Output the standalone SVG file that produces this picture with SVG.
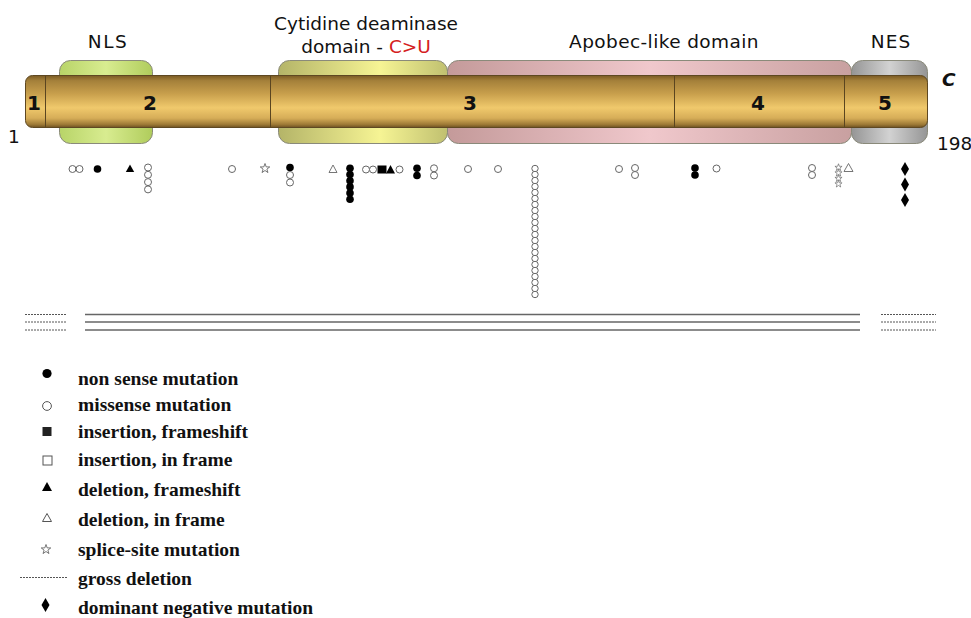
<svg xmlns="http://www.w3.org/2000/svg" xmlns:xlink="http://www.w3.org/1999/xlink" width="971" height="618" viewBox="0 0 971 618">
  <style>
    .lbl { font-family: "DejaVu Sans", "Liberation Sans", sans-serif; font-size: 18.5px; fill: #111; }
    .num { font-family: "DejaVu Sans", "Liberation Sans", sans-serif; font-size: 20px; font-weight: bold; fill: #111; text-anchor: middle; }
    .leg { font-family: "Liberation Serif", serif; font-size: 19.5px; font-weight: bold; fill: #111; }
    .oc { fill: #fff; stroke: #666; stroke-width: 1; }
    .fc { fill: #000; }
    .box { stroke: #8a8a7a; stroke-width: 1; }
    .div { stroke: #5a4520; stroke-width: 1; }
    .gl { stroke: #666; stroke-width: 1.6; }
    .gd { stroke: #555; stroke-width: 1; stroke-dasharray: 2 1; }
  </style>
  <defs>
    <linearGradient id="gBar" x1="0" y1="0" x2="0" y2="1">
      <stop offset="0" stop-color="#7a5a24"/>
      <stop offset="0.1" stop-color="#a4803a"/>
      <stop offset="0.35" stop-color="#c89f4c"/>
      <stop offset="0.62" stop-color="#f0c96c"/>
      <stop offset="0.82" stop-color="#d6ad58"/>
      <stop offset="0.94" stop-color="#9e7a36"/>
      <stop offset="1" stop-color="#6e5222"/>
    </linearGradient>
    <linearGradient id="gNls" x1="0" y1="0" x2="1" y2="0">
      <stop offset="0" stop-color="#b8d468"/>
      <stop offset="0.5" stop-color="#d8ec90"/>
      <stop offset="1" stop-color="#b0cc5c"/>
    </linearGradient>
    <linearGradient id="gCyt" x1="0" y1="0" x2="1" y2="0">
      <stop offset="0" stop-color="#b4b468"/>
      <stop offset="0.6" stop-color="#f6f494"/>
      <stop offset="1" stop-color="#c0c070"/>
    </linearGradient>
    <linearGradient id="gApo" x1="0" y1="0" x2="1" y2="0">
      <stop offset="0" stop-color="#c49a9a"/>
      <stop offset="0.5" stop-color="#f0c8cc"/>
      <stop offset="1" stop-color="#c8a0a0"/>
    </linearGradient>
    <linearGradient id="gNes" x1="0" y1="0" x2="1" y2="0">
      <stop offset="0" stop-color="#959595"/>
      <stop offset="0.5" stop-color="#d2d2d2"/>
      <stop offset="1" stop-color="#959595"/>
    </linearGradient>
    <path id="star" d="M0,-5 L1.18,-1.62 L4.76,-1.55 L1.9,0.62 L2.94,4.05 L0,2 L-2.94,4.05 L-1.9,0.62 L-4.76,-1.55 L-1.18,-1.62 Z" fill="#fff" stroke="#555" stroke-width="0.8"/>
    <path id="dia" d="M0,-7 L4,0 L0,7 L-4,0 Z" fill="#000"/>
  </defs>

  <!-- domain labels -->
  <g id="labels">
    <text class="lbl" x="108" y="48" text-anchor="middle" letter-spacing="1.5">NLS</text>
    <text class="lbl" x="366" y="30" text-anchor="middle">Cytidine deaminase</text>
    <text class="lbl" x="366" y="53" text-anchor="middle">domain - <tspan fill="#d42020">C&gt;U</tspan></text>
    <text class="lbl" x="664" y="48" text-anchor="middle" letter-spacing="0.4">Apobec-like domain</text>
    <text class="lbl" x="891" y="48" text-anchor="middle" letter-spacing="1">NES</text>
    <text class="lbl" x="942" y="86" font-style="italic" font-weight="bold">C</text>
    <text class="lbl" x="8" y="143">1</text>
    <text class="lbl" x="937" y="150">198</text>
  </g>

  <!-- functional domains behind the exon bar -->
  <g id="domain-nls"><rect class="box" x="59.5" y="60.5" width="93" height="83" rx="11" fill="url(#gNls)"/></g>
  <g id="domain-cytidine"><rect class="box" x="278.5" y="60.5" width="169" height="83" rx="11" fill="url(#gCyt)"/></g>
  <g id="domain-apobec"><rect class="box" x="447.5" y="60.5" width="404" height="83" rx="11" fill="url(#gApo)"/></g>
  <g id="domain-nes"><rect class="box" x="851.5" y="60.5" width="76" height="83" rx="11" fill="url(#gNes)"/></g>

  <!-- exon bar -->
  <g id="exons">
    <rect x="25.5" y="75.5" width="902" height="52" rx="7" fill="url(#gBar)" stroke="#5e4822" stroke-width="1"/>
    <line class="div" x1="45.5" y1="76" x2="45.5" y2="127"/>
    <line class="div" x1="270.5" y1="76" x2="270.5" y2="127"/>
    <line class="div" x1="674.5" y1="76" x2="674.5" y2="127"/>
    <line class="div" x1="844.5" y1="76" x2="844.5" y2="127"/>
    <text class="num" x="34" y="110">1</text>
    <text class="num" x="150" y="110">2</text>
    <text class="num" x="470" y="110">3</text>
    <text class="num" x="758" y="110">4</text>
    <text class="num" x="885" y="110">5</text>
  </g>

  <!-- mutations along the protein -->
  <g id="mutations">
    <circle class="oc" cx="72.5" cy="169" r="3.5"/>
    <circle class="oc" cx="79.5" cy="169" r="3.5"/>
    <circle class="fc" cx="97.5" cy="169" r="3.8"/>
    <path class="fc" d="M130,164.5 L134.2,172 L125.8,172 Z"/>
    <circle class="oc" cx="148" cy="167.5" r="3.5"/>
    <circle class="oc" cx="148" cy="174.8" r="3.5"/>
    <circle class="oc" cx="148" cy="182.1" r="3.5"/>
    <circle class="oc" cx="148" cy="189.4" r="3.5"/>
    <circle class="oc" cx="232" cy="169" r="3.5"/>
    <use xlink:href="#star" x="265" y="168.5"/>
    <circle class="fc" cx="290" cy="167.5" r="3.8"/>
    <circle class="oc" cx="290" cy="175" r="3.5"/>
    <circle class="oc" cx="290" cy="182.5" r="3.5"/>
    <path d="M333,165 L337,172.5 L329,172.5 Z" fill="#fff" stroke="#666" stroke-width="0.9"/>
    <circle class="fc" cx="350" cy="168.3" r="3.8"/>
    <circle class="fc" cx="350" cy="174.5" r="3.8"/>
    <circle class="fc" cx="350" cy="180.7" r="3.8"/>
    <circle class="fc" cx="350" cy="186.9" r="3.8"/>
    <circle class="fc" cx="350" cy="193.1" r="3.8"/>
    <circle class="fc" cx="350" cy="199.3" r="3.8"/>
    <circle class="oc" cx="366" cy="169.5" r="3.5"/>
    <circle class="oc" cx="373" cy="169.5" r="3.5"/>
    <rect class="fc" x="377.5" y="165.5" width="9" height="8"/>
    <path class="fc" d="M390.5,165 L395,173.5 L386,173.5 Z"/>
    <circle class="oc" cx="399.5" cy="169.5" r="3.5"/>
    <circle class="fc" cx="417" cy="168.3" r="3.8"/>
    <circle class="fc" cx="417" cy="175.5" r="3.8"/>
    <circle class="oc" cx="434" cy="168.3" r="3.5"/>
    <circle class="oc" cx="434" cy="175.5" r="3.5"/>
    <circle class="oc" cx="468" cy="169" r="3.5"/>
    <circle class="oc" cx="498" cy="169" r="3.5"/>
    <g id="col-535">
      <circle class="oc" cx="535" cy="168.5" r="3.2"/>
      <circle class="oc" cx="535" cy="174.5" r="3.2"/>
      <circle class="oc" cx="535" cy="180.5" r="3.2"/>
      <circle class="oc" cx="535" cy="186.5" r="3.2"/>
      <circle class="oc" cx="535" cy="192.5" r="3.2"/>
      <circle class="oc" cx="535" cy="198.5" r="3.2"/>
      <circle class="oc" cx="535" cy="204.5" r="3.2"/>
      <circle class="oc" cx="535" cy="210.5" r="3.2"/>
      <circle class="oc" cx="535" cy="216.5" r="3.2"/>
      <circle class="oc" cx="535" cy="222.5" r="3.2"/>
      <circle class="oc" cx="535" cy="228.5" r="3.2"/>
      <circle class="oc" cx="535" cy="234.5" r="3.2"/>
      <circle class="oc" cx="535" cy="240.5" r="3.2"/>
      <circle class="oc" cx="535" cy="246.5" r="3.2"/>
      <circle class="oc" cx="535" cy="252.5" r="3.2"/>
      <circle class="oc" cx="535" cy="258.5" r="3.2"/>
      <circle class="oc" cx="535" cy="264.5" r="3.2"/>
      <circle class="oc" cx="535" cy="270.5" r="3.2"/>
      <circle class="oc" cx="535" cy="276.5" r="3.2"/>
      <circle class="oc" cx="535" cy="282.5" r="3.2"/>
      <circle class="oc" cx="535" cy="288.5" r="3.2"/>
      <circle class="oc" cx="535" cy="294.5" r="3.2"/>
    </g>
    <circle class="oc" cx="619" cy="169" r="3.5"/>
    <circle class="oc" cx="635" cy="168" r="3.5"/>
    <circle class="oc" cx="635" cy="175" r="3.5"/>
    <circle class="fc" cx="695" cy="168" r="3.8"/>
    <circle class="fc" cx="695" cy="175" r="3.8"/>
    <circle class="oc" cx="716.5" cy="168.5" r="3.5"/>
    <circle class="oc" cx="812" cy="168" r="3.5"/>
    <circle class="oc" cx="812" cy="175" r="3.5"/>
    <use xlink:href="#star" transform="translate(838.5,167.5) scale(0.75)"/>
    <use xlink:href="#star" transform="translate(838.5,173) scale(0.75)"/>
    <use xlink:href="#star" transform="translate(838.5,178.5) scale(0.75)"/>
    <use xlink:href="#star" transform="translate(838.5,184) scale(0.75)"/>
    <path d="M848.5,163.5 L853,171.5 L844,171.5 Z" fill="#fff" stroke="#666" stroke-width="0.9"/>
    <use xlink:href="#dia" x="905" y="169"/>
    <use xlink:href="#dia" x="905" y="184.5"/>
    <use xlink:href="#dia" x="905" y="200"/>
  </g>

  <!-- gross deletions -->
  <g id="deletions">
    <line class="gd" x1="25" y1="314.5" x2="67" y2="314.5"/>
    <line class="gd" x1="25" y1="322" x2="67" y2="322"/>
    <line class="gd" x1="25" y1="330" x2="67" y2="330"/>
    <line class="gl" x1="85" y1="314.5" x2="860" y2="314.5"/>
    <line class="gl" x1="85" y1="322" x2="860" y2="322"/>
    <line class="gl" x1="85" y1="330" x2="860" y2="330"/>
    <line class="gd" x1="881" y1="314.5" x2="936" y2="314.5"/>
    <line class="gd" x1="881" y1="322" x2="936" y2="322"/>
    <line class="gd" x1="881" y1="330" x2="936" y2="330"/>
  </g>

  <!-- legend -->
  <g id="legend">
    <circle class="fc" cx="47" cy="373.5" r="4.6"/>
    <text class="leg" x="78" y="385">non sense mutation</text>
    <circle cx="47" cy="406" r="4.4" fill="#fff" stroke="#555" stroke-width="1"/>
    <text class="leg" x="78" y="411">missense mutation</text>
    <rect x="42.5" y="427" width="9" height="9" fill="#222"/>
    <text class="leg" x="78" y="438">insertion, frameshift</text>
    <rect x="43" y="456" width="9" height="9" fill="#fff" stroke="#555" stroke-width="1"/>
    <text class="leg" x="78" y="466">insertion, in frame</text>
    <path d="M47,482 L52,491 L42,491 Z" fill="#000"/>
    <text class="leg" x="78" y="496">deletion, frameshift</text>
    <path d="M47,513.5 L51.5,521.5 L42.5,521.5 Z" fill="#fff" stroke="#555" stroke-width="1"/>
    <text class="leg" x="78" y="526">deletion, in frame</text>
    <use xlink:href="#star" x="46" y="549.5"/>
    <text class="leg" x="78" y="556">splice-site mutation</text>
    <line class="gd" x1="20" y1="577.5" x2="68" y2="577.5"/>
    <text class="leg" x="78" y="585">gross deletion</text>
    <use xlink:href="#dia" x="45.5" y="605"/>
    <text class="leg" x="78" y="614">dominant negative mutation</text>
  </g>
</svg>
